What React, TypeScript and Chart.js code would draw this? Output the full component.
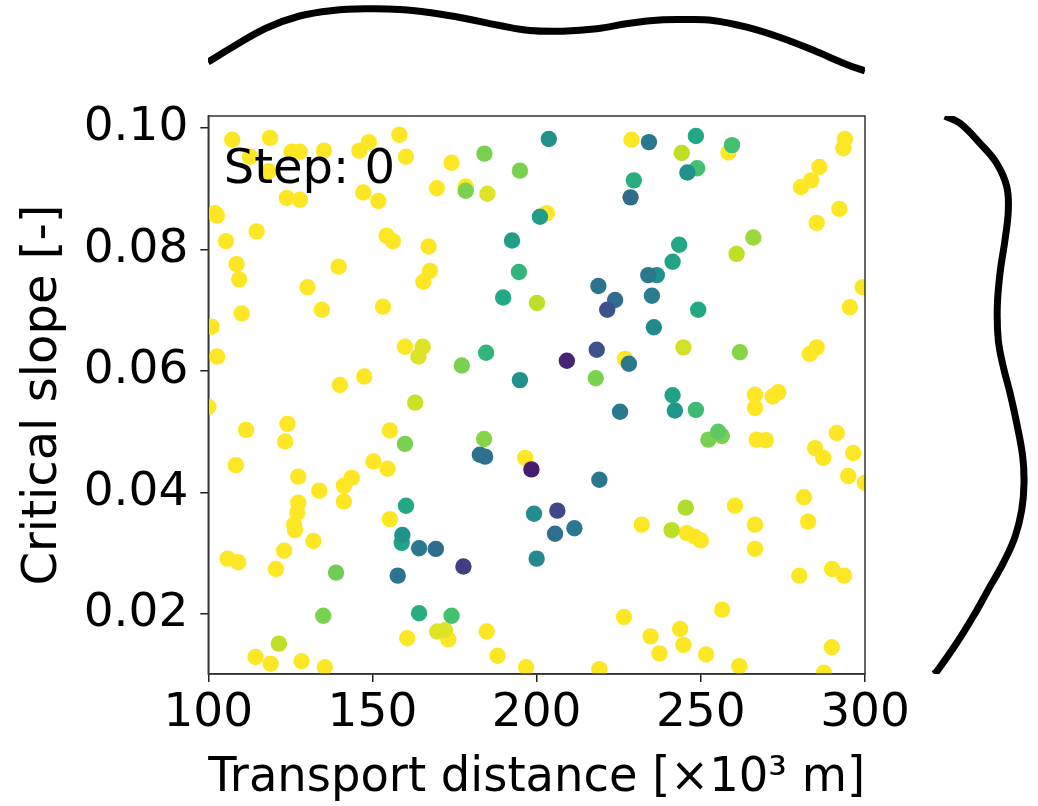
import React, { useEffect, useRef } from "react";
import { Chart, registerables } from "chart.js";

Chart.register(...registerables);
Chart.defaults.font.family = "'DejaVu Sans', sans-serif";

// ---- scatter data ----
const transportDistance = [
  107.3, 118.8, 112.7, 118.3, 125.4, 127.9, 135.2, 146.0, 148.9, 158.2,
  160.2, 174.1, 184.1, 194.9, 169.6, 178.4, 178.4, 185.0, 123.9, 127.9,
  147.2, 151.8, 102.0, 102.6, 201.0, 203.1, 114.7, 105.4, 154.3, 156.2,
  167.1, 192.5, 108.6, 109.4, 139.7, 167.5, 165.5, 194.6, 130.2, 134.6,
  153.2, 110.2, 189.8, 200.1, 101.0, 102.7, 159.9, 165.3, 164.0, 177.2,
  184.6, 194.9, 140.1, 147.5, 163.0,
  203.7, 228.9, 234.2, 248.5, 244.2, 258.4, 259.5, 248.9, 245.9, 229.6,
  228.6, 293.9, 293.4, 286.1, 283.6, 280.5, 292.2, 285.3, 266.0, 260.9,
  243.4, 241.4, 236.6, 234.0, 218.8, 223.9, 221.5, 235.1, 249.2, 235.7,
  299.3, 295.4, 244.7, 261.9, 285.3, 283.2, 209.2, 218.3, 226.9, 228.1,
  218.0, 241.4, 266.5, 273.6, 271.9,
  225.4, 242.1, 248.5, 266.5, 255.3, 252.3, 256.4, 267.0, 269.8, 291.4,
  284.8, 287.3, 296.4, 294.9, 300.0, 198.4, 219.1, 199.2, 206.3, 205.6,
  211.5, 200.0, 245.4, 241.1, 232.0, 245.7, 248.2, 250.0, 260.4, 266.5,
  266.5, 281.4, 282.7, 280.0, 290.0, 293.6, 226.6, 234.7, 243.7, 244.7,
  237.4, 251.6, 256.5, 261.7, 289.9, 287.5, 219.1, 196.8,
  100.0, 111.5, 124.1, 123.4, 108.4, 127.4, 133.8, 141.3, 143.7, 141.3,
  127.4, 127.1, 126.1, 126.4, 132.0, 123.1, 105.9, 109.1, 120.6, 138.9,
  150.3, 154.6, 155.3, 159.9, 155.3, 160.2, 159.1, 158.9, 164.2, 169.3,
  177.7, 157.7, 184.0, 182.7, 184.3, 196.5, 135.0, 121.5, 164.2, 174.1,
  169.7, 172.1, 173.1, 160.6, 184.8, 188.1, 114.4, 119.0, 128.4, 135.5,
];

const criticalSlope = [
  0.0981, 0.0984, 0.0953, 0.0929, 0.0961, 0.0961, 0.0963, 0.0963, 0.0977, 0.0989,
  0.0953, 0.0943, 0.0958, 0.0930, 0.0901, 0.0904, 0.0897, 0.0892, 0.0885, 0.0882,
  0.0894, 0.0880, 0.0860, 0.0856, 0.0854, 0.0860, 0.0830, 0.0814, 0.0823, 0.0814,
  0.0805, 0.0815, 0.0776, 0.0751, 0.0772, 0.0765, 0.0747, 0.0763, 0.0738, 0.0701,
  0.0706, 0.0695, 0.0721, 0.0712, 0.0673, 0.0624, 0.0640, 0.0640, 0.0624, 0.0609,
  0.0630, 0.0585, 0.0577, 0.0591, 0.0548,
  0.0982, 0.0981, 0.0977, 0.0987, 0.0959, 0.0960, 0.0972, 0.0934, 0.0927, 0.0914,
  0.0886, 0.0982, 0.0967, 0.0936, 0.0914, 0.0903, 0.0867, 0.0844, 0.0820, 0.0793,
  0.0808, 0.0780, 0.0758, 0.0758, 0.0740, 0.0717, 0.0701, 0.0724, 0.0701, 0.0672,
  0.0738, 0.0705, 0.0639, 0.0631, 0.0639, 0.0628, 0.0617, 0.0635, 0.0620, 0.0612,
  0.0588, 0.0560, 0.0561, 0.0565, 0.0558,
  0.0533, 0.0535, 0.0536, 0.0539, 0.0500, 0.0487, 0.0493, 0.0487, 0.0486, 0.0498,
  0.0473, 0.0457, 0.0465, 0.0427, 0.0416, 0.0438, 0.0421, 0.0365, 0.0370, 0.0332,
  0.0341, 0.0291, 0.0375, 0.0338, 0.0347, 0.0333, 0.0327, 0.0321, 0.0378, 0.0347,
  0.0307, 0.0392, 0.0352, 0.0263, 0.0274, 0.0263, 0.0195, 0.0163, 0.0175, 0.0149,
  0.0135, 0.0133, 0.0207, 0.0114, 0.0145, 0.0103, 0.0109, 0.0112,
  0.0541, 0.0503, 0.0513, 0.0484, 0.0445, 0.0426, 0.0403, 0.0411, 0.0424, 0.0385,
  0.0383, 0.0367, 0.0347, 0.0338, 0.0320, 0.0304, 0.0291, 0.0285, 0.0274, 0.0268,
  0.0451, 0.0439, 0.0502, 0.0480, 0.0356, 0.0378, 0.0330, 0.0317, 0.0308, 0.0307,
  0.0278, 0.0263, 0.0488, 0.0462, 0.0459, 0.0457, 0.0197, 0.0151, 0.0201, 0.0197,
  0.0171, 0.0173, 0.0158, 0.0160, 0.0171, 0.0131, 0.0129, 0.0118, 0.0122, 0.0112,
];

// colour value (0 = dark purple, 1 = yellow), viridis colormap
const colorValue = [
  1, 1, 1, 1, 1, 1, 1, 1, 1, 1,
  1, 1, 0.8, 0.8, 1, 1, 0.8, 0.95, 1, 1,
  1, 1, 1, 1, 0.55, 1, 1, 1, 1, 1,
  1, 0.55, 1, 1, 1, 1, 1, 0.65, 1, 1,
  1, 1, 0.6, 0.9, 1, 1, 1, 0.95, 0.95, 0.8,
  0.65, 0.5, 1, 1, 0.92,
  0.5, 1, 0.4, 0.6, 0.9, 1, 0.7, 0.7, 0.5, 0.62,
  0.35, 1, 1, 1, 1, 1, 1, 1, 0.85, 0.9,
  0.6, 0.58, 0.5, 0.4, 0.38, 0.35, 0.25, 0.42, 0.6, 0.47,
  1, 1, 0.93, 0.82, 1, 1, 0.1, 0.25, 1, 0.4,
  0.8, 0.57, 1, 1, 1,
  0.4, 0.52, 0.68, 1, 0.75, 0.8, 0.8, 1, 1, 1,
  1, 1, 1, 1, 1, 0.08, 0.4, 0.48, 0.22, 0.36,
  0.4, 0.47, 0.88, 0.9, 1, 1, 1, 1, 1, 1,
  1, 1, 1, 1, 1, 1, 1, 1, 1, 1,
  1, 1, 1, 1, 1, 1, 1, 1,
  1, 1, 1, 1, 1, 1, 1, 1, 1, 1,
  1, 1, 1, 1, 1, 1, 1, 1, 1, 0.78,
  1, 1, 1, 0.8, 1, 0.6, 0.5, 0.58, 0.4, 0.35,
  0.18, 0.38, 0.82, 0.37, 0.37, 1, 0.8, 0.9, 0.62, 0.7,
  0.95, 0.95, 1, 1, 1, 1, 1, 1, 1, 1,
];

// ---- marginal density curves ----
const topCurveX = [
  100, 107.5, 117.8, 127.9, 138, 148.2, 158.4, 168.4, 178.7, 188.8, 198,
  208, 218.3, 228.4, 238.5, 245.7, 253.7, 264, 274.2, 284.3, 294.4, 300,
];
const topCurveDensity = [
  0.28, 0.43, 0.62, 0.74, 0.795, 0.812, 0.805, 0.77, 0.713, 0.645, 0.595,
  0.588, 0.612, 0.668, 0.702, 0.705, 0.695, 0.628, 0.525, 0.397, 0.255, 0.19,
];
const rightCurveY = [
  0.1020, 0.1008, 0.0975, 0.0942, 0.0904, 0.0865, 0.0816, 0.0761, 0.0706, 0.0651,
  0.0607, 0.0564, 0.0514, 0.0459, 0.0415, 0.0371, 0.0327, 0.0284, 0.0240, 0.0196,
  0.0152, 0.0105, 0.0101,
];
const rightCurveDensity = [
  0.25, 0.40, 0.60, 0.767, 0.867, 0.883, 0.85, 0.80, 0.773, 0.783,
  0.833, 0.90, 0.967, 1.027, 1.04, 1.017, 0.95, 0.833, 0.683, 0.533,
  0.367, 0.167, 0.14,
];

// ---- axes / text ----
const xTicks = [100, 150, 200, 250, 300];
const yTicks = [0.02, 0.04, 0.06, 0.08, 0.1];
const xRange = [100, 300];
const yRange = [0.0101, 0.102];
const xTitle = "Transport distance [×10³ m]";
const yTitle = "Critical slope [-]";
const stepLabel = "Step: 0";

const VIRIDIS = [
  "#440154", "#482475", "#414487", "#355f8d", "#2a788e", "#21918c",
  "#22a884", "#44bf70", "#7ad151", "#bddf26", "#fde725",
];
function hexToRgb(h: string) {
  return [parseInt(h.slice(1, 3), 16), parseInt(h.slice(3, 5), 16), parseInt(h.slice(5, 7), 16)];
}
function viridis(t: number) {
  const p = Math.min(1, Math.max(0, t)) * 10;
  const i = Math.min(9, Math.floor(p));
  const f = p - i;
  const a = hexToRgb(VIRIDIS[i]);
  const b = hexToRgb(VIRIDIS[i + 1]);
  const c = a.map((v, k) => Math.round(v + (b[k] - v) * f));
  return `rgb(${c[0]},${c[1]},${c[2]})`;
}

const framePlugin = {
  id: "frame",
  afterDatasetsDraw(chart: any) {
    const { ctx, chartArea } = chart;
    ctx.save();
    ctx.strokeStyle = "#333";
    ctx.lineWidth = 1.5;
    ctx.strokeRect(chartArea.left, chartArea.top, chartArea.right - chartArea.left, chartArea.bottom - chartArea.top);
    ctx.fillStyle = "#000";
    ctx.font = "48px 'DejaVu Sans'";
    ctx.textBaseline = "alphabetic";
    ctx.textAlign = "left";
    ctx.fillText(stepLabel, chartArea.left + 15.5, chartArea.top + 66.7);
    ctx.restore();
  },
};

function MainChart() {
  const ref = useRef<HTMLCanvasElement>(null);
  useEffect(() => {
    const order = colorValue.map((_, i) => i).sort((a, b) => colorValue[b] - colorValue[a]);
    const pts = order.map((i) => ({ x: transportDistance[i], y: criticalSlope[i] }));
    const cols = order.map((i) => viridis(colorValue[i]));
    const chart = new Chart(ref.current!, {
      type: "scatter",
      data: {
        datasets: [
          {
            data: pts,
            pointBackgroundColor: cols,
            pointBorderWidth: 0,
            pointRadius: 8.2,
            pointHoverRadius: 8.2,
          } as any,
        ],
      },
      options: {
        animation: false,
        responsive: false,
        events: [],
        layout: { padding: { top: 76, right: 85, left: 0, bottom: 0 } },
        plugins: { legend: { display: false }, tooltip: { enabled: false } },
        scales: {
          x: {
            type: "linear",
            min: xRange[0],
            max: xRange[1],
            afterFit: (s: any) => {
              s.height = 132;
            },
            afterBuildTicks: (s: any) => {
              s.ticks = xTicks.map((v) => ({ value: v }));
            },
            ticks: {
              color: "#000",
              font: { size: 47 },
              padding: 4,
              maxRotation: 0,
              autoSkip: false,
              callback: (v: any) => String(v),
            },
            grid: { drawOnChartArea: false, tickLength: 8, color: "#222", lineWidth: 1.5 },
            border: { display: true, color: "#333", width: 1.5 },
            title: {
              display: true,
              text: xTitle,
              color: "#000",
              font: { size: 48, lineHeight: 1 },
              padding: { top: 0, bottom: 3 },
            },
          },
          y: {
            type: "linear",
            min: yRange[0],
            max: yRange[1],
            afterFit: (s: any) => {
              s.width = 208.3;
            },
            afterBuildTicks: (s: any) => {
              s.ticks = yTicks.map((v) => ({ value: v }));
            },
            ticks: {
              color: "#000",
              font: { size: 47 },
              padding: 12,
              autoSkip: false,
              callback: (v: any) => Number(v).toFixed(2),
            },
            grid: { drawOnChartArea: false, tickLength: 8, color: "#222", lineWidth: 1.5 },
            border: { display: true, color: "#333", width: 1.5 },
            title: {
              display: true,
              text: yTitle,
              color: "#000",
              font: { size: 48, lineHeight: 1 },
              padding: { top: 20, bottom: 0 },
            },
          },
        },
      } as any,
      plugins: [framePlugin],
    });
    return () => chart.destroy();
  }, []);
  return (
    <canvas
      ref={ref}
      width={950}
      height={766}
      style={{ position: "absolute", left: 0, top: 40, width: 950, height: 766 }}
    />
  );
}

function CurveChart(props: {
  points: { x: number; y: number }[];
  xMin: number; xMax: number; yMin: number; yMax: number;
  indexAxis: "x" | "y";
  padding: any; clip: any;
  left: number; top: number; width: number; height: number;
}) {
  const ref = useRef<HTMLCanvasElement>(null);
  useEffect(() => {
    const chart = new Chart(ref.current!, {
      type: "line",
      data: {
        datasets: [
          {
            data: props.points,
            borderColor: "#000",
            borderWidth: 7,
            pointRadius: 0,
            tension: 0.4,
            fill: false,
            clip: props.clip,
          } as any,
        ],
      },
      options: {
        animation: false,
        responsive: false,
        events: [],
        indexAxis: props.indexAxis,
        elements: { line: { borderWidth: 7, borderColor: "#000" } },
        layout: { padding: props.padding },
        plugins: { legend: { display: false }, tooltip: { enabled: false } },
        scales: {
          x: { type: "linear", min: props.xMin, max: props.xMax, display: false },
          y: { type: "linear", min: props.yMin, max: props.yMax, display: false },
        },
      } as any,
    });
    return () => chart.destroy();
  }, []);
  return (
    <canvas
      ref={ref}
      width={props.width}
      height={props.height}
      style={{ position: "absolute", left: props.left, top: props.top, width: props.width, height: props.height }}
    />
  );
}

export default function App() {
  return (
    <div
      style={{
        position: "fixed",
        left: 0,
        top: 0,
        width: 1038,
        height: 806,
        background: "#fff",
        overflow: "hidden",
      }}
    >
      <MainChart />
      <CurveChart
        points={topCurveX.map((x, i) => ({ x, y: topCurveDensity[i] }))}
        xMin={xRange[0]} xMax={xRange[1]} yMin={0} yMax={0.9}
        indexAxis="x"
        padding={{ left: 20, right: 20, top: 0, bottom: 10 }}
        clip={{ left: 0, right: 0, top: 20, bottom: 20 }}
        left={188} top={0} width={697} height={100}
      />
      <CurveChart
        points={rightCurveY.map((y, i) => ({ x: rightCurveDensity[i], y }))}
        xMin={0} xMax={1} yMin={yRange[0]} yMax={yRange[1]}
        indexAxis="y"
        padding={{ left: 20, right: 18, top: 16, bottom: 16 }}
        clip={{ left: 20, right: 20, top: 0, bottom: 0 }}
        left={900} top={100} width={138} height={590}
      />
    </div>
  );
}
